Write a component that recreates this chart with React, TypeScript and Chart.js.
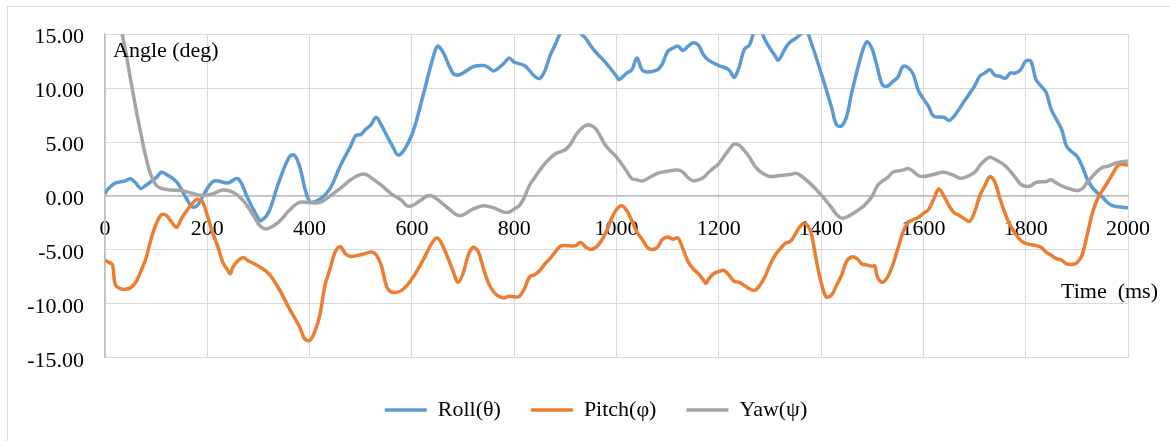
import { useEffect, useRef } from 'react';
import { Chart, registerables } from 'chart.js';

Chart.register(...registerables);

const FONT = '"Liberation Serif", "Times New Roman", serif';

const SERIES_NAMES = ['Roll(θ)', 'Pitch(φ)', 'Yaw(ψ)'];
const Y_TITLE = 'Angle (deg)';
const X_TITLE = 'Time  (ms)';

const rollTime = [0,5,20,40,50,60,70,80,100,110,120,140,160,170,180,200,210,220,240,260,280,300,305,320,340,360,370,380,400,420,440,460,480,490,500,510,520,530,540,560,575,600,620,640,650,660,680,690,700,720,740,750,760,780,790,800,820,840,850,860,870,880,890,900,915,930,940,950,960,980,1000,1005,1020,1030,1040,1050,1060,1080,1090,1100,1110,1120,1130,1140,1150,1160,1170,1180,1200,1220,1230,1240,1250,1260,1270,1280,1290,1300,1310,1315,1320,1330,1340,1350,1360,1370,1380,1400,1420,1430,1440,1450,1460,1480,1490,1500,1510,1520,1530,1540,1550,1560,1570,1580,1590,1600,1610,1620,1640,1650,1660,1680,1700,1710,1720,1730,1740,1750,1760,1770,1780,1790,1800,1810,1820,1830,1840,1850,1860,1870,1880,1890,1900,1910,1920,1930,1940,1950,1960,1970,1980,2000];
const rollAngle = [0.2,0.6,1.2,1.4,1.6,1.2,0.7,1.0,1.7,2.2,2.0,1.3,-0.3,-1.0,-0.9,0.7,1.3,1.4,1.2,1.6,-0.3,-2.1,-2.3,-1.5,1.3,3.6,3.8,2.8,-0.5,-0.3,0.7,2.8,4.6,5.6,5.7,6.2,6.6,7.3,6.6,4.8,3.8,5.7,9.0,12.6,13.9,13.4,11.4,11.2,11.4,12.0,12.1,11.9,11.6,12.3,12.8,12.4,12.1,11.1,10.9,11.6,13.0,14.0,15.1,16.0,16.2,15.1,14.6,13.9,13.3,12.3,11.1,10.8,11.4,11.7,12.8,11.7,11.5,11.7,12.3,13.4,13.7,13.9,13.5,13.9,14.2,14.0,13.1,12.6,12.1,11.7,11.0,12.0,13.6,14.0,15.3,15.6,14.5,13.7,13.0,12.6,12.8,13.7,14.3,14.6,15.0,15.4,14.3,11.4,8.3,6.6,6.5,7.4,9.6,13.3,14.3,13.6,11.9,10.3,10.2,10.6,11.0,12.0,11.9,11.3,9.8,9.0,8.3,7.4,7.3,7.0,7.4,8.8,10.2,11.1,11.4,11.7,11.2,11.1,10.9,11.4,11.4,11.7,12.5,12.5,10.8,10.2,9.6,8.0,7.1,6.2,4.6,4.1,3.7,2.8,1.6,0.8,0.3,-0.1,-0.6,-0.9,-1.0,-1.1];

const pitchTime = [0,10,15,20,30,40,50,60,70,80,90,100,110,120,130,140,150,160,170,180,190,200,210,220,230,240,245,250,260,270,280,300,320,340,360,380,390,400,410,420,430,440,450,460,470,480,500,520,530,540,550,560,580,600,620,640,650,660,680,690,700,710,720,730,740,750,760,770,780,790,800,810,820,830,840,850,860,870,880,890,900,920,930,940,950,960,970,980,990,1000,1010,1020,1030,1040,1050,1060,1070,1080,1090,1100,1110,1120,1130,1140,1150,1160,1170,1175,1180,1190,1200,1210,1220,1230,1240,1250,1260,1270,1280,1290,1300,1310,1320,1330,1340,1350,1360,1370,1380,1390,1400,1410,1420,1430,1440,1450,1460,1470,1480,1490,1500,1505,1510,1520,1530,1540,1550,1560,1570,1580,1590,1600,1610,1620,1630,1640,1650,1660,1670,1680,1690,1700,1710,1720,1730,1740,1750,1760,1770,1780,1790,1800,1820,1830,1840,1850,1860,1870,1880,1890,1900,1910,1920,1930,1940,1950,1960,1970,1980,1990,2000];
const pitchAngle = [-6.0,-6.2,-6.4,-8.2,-8.6,-8.65,-8.5,-8.0,-7.0,-5.8,-4.0,-2.6,-1.75,-1.8,-2.4,-2.9,-2.05,-1.35,-0.75,-0.3,-0.5,-1.8,-3.35,-4.6,-6.1,-6.9,-7.2,-6.6,-6.0,-5.7,-6.0,-6.5,-7.2,-8.6,-10.4,-12.1,-13.2,-13.4,-12.6,-11.05,-8.3,-6.75,-5.2,-4.7,-5.35,-5.6,-5.45,-5.2,-5.45,-6.4,-8.3,-8.9,-8.75,-7.7,-6.1,-4.3,-3.9,-4.6,-6.9,-8.0,-7.2,-5.5,-4.75,-5.2,-6.75,-8.1,-8.9,-9.3,-9.45,-9.3,-9.35,-9.3,-8.6,-7.5,-7.3,-6.9,-6.3,-5.8,-5.2,-4.65,-4.6,-4.6,-4.3,-4.75,-4.95,-4.75,-4.2,-3.3,-2.1,-1.25,-0.9,-1.35,-2.3,-3.35,-4.0,-4.75,-4.95,-4.75,-4.0,-3.8,-4.0,-3.9,-4.9,-6.1,-6.75,-7.2,-7.8,-8.1,-7.7,-7.2,-7.0,-6.9,-7.35,-7.9,-8.0,-8.3,-8.6,-8.75,-8.3,-7.5,-6.4,-5.5,-4.9,-4.4,-4.2,-3.5,-2.75,-2.6,-3.35,-5.8,-8.0,-9.35,-9.2,-8.3,-7.35,-6.05,-5.65,-5.8,-6.3,-6.4,-6.5,-6.5,-7.5,-8.0,-7.5,-6.4,-4.9,-3.35,-2.45,-2.2,-2.0,-1.6,-1.25,-0.3,0.65,0.0,-0.9,-1.55,-1.8,-2.1,-2.35,-1.5,0.0,0.95,1.8,1.25,-0.3,-1.65,-2.75,-3.5,-4.1,-4.4,-4.6,-4.75,-5.2,-5.5,-5.8,-5.95,-6.3,-6.35,-6.2,-5.5,-3.65,-1.65,-0.3,0.5,1.25,2.05,2.8,2.95,2.85];

const yawTime = [0,10,20,30,40,50,60,70,80,90,100,110,130,150,170,190,210,230,250,270,290,300,310,320,340,360,380,400,420,440,460,480,500,510,520,540,560,580,590,600,620,630,640,660,680,690,700,720,740,760,780,790,800,810,820,830,840,850,860,870,880,890,900,910,920,930,940,950,960,970,980,1000,1020,1030,1040,1050,1060,1080,1100,1120,1130,1140,1150,1160,1170,1180,1190,1200,1220,1230,1240,1250,1260,1270,1280,1290,1300,1320,1340,1350,1360,1380,1400,1420,1430,1440,1450,1460,1480,1490,1500,1510,1520,1530,1540,1560,1570,1580,1590,1600,1620,1640,1660,1670,1680,1700,1710,1720,1730,1740,1760,1780,1790,1800,1810,1820,1840,1850,1860,1880,1900,1910,1920,1940,1950,1960,1980,2000];
const yawAngle = [23,20.8,18.3,15.8,13.5,10.8,8.2,5.8,3.6,1.9,1.0,0.7,0.55,0.5,0.25,0.05,0.2,0.55,0.35,-0.4,-1.8,-2.6,-3.0,-3.0,-2.4,-1.35,-0.6,-0.6,-0.6,0.0,0.7,1.5,2.0,2.0,1.7,1.0,0.2,-0.4,-0.9,-0.9,-0.3,0.0,0.0,-0.7,-1.5,-1.8,-1.75,-1.2,-0.9,-1.1,-1.5,-1.5,-1.2,-0.9,-0.1,1.0,1.7,2.4,3.0,3.5,3.9,4.1,4.3,4.8,5.6,6.2,6.55,6.55,6.2,5.4,4.6,3.6,2.3,1.6,1.5,1.4,1.6,2.1,2.3,2.4,2.2,1.7,1.4,1.5,1.7,2.2,2.6,3.0,4.3,4.8,4.7,4.2,3.6,2.8,2.3,2.0,1.8,1.9,2.0,2.1,1.9,1.1,0.1,-1.05,-1.7,-2.05,-1.95,-1.7,-1.05,-0.6,0.0,0.95,1.4,1.7,2.2,2.4,2.55,2.3,1.9,1.8,2.0,2.2,1.9,1.65,1.7,2.2,2.8,3.3,3.6,3.4,2.8,1.7,1.1,0.9,0.95,1.25,1.35,1.5,1.2,0.75,0.5,0.65,1.25,2.3,2.65,2.75,3.1,3.25];

const COLORS = ['#5B9BD5', '#ED7D31', '#A5A5A5'];

const toPoints = (t: number[], v: number[]) => t.map((x, i) => ({ x, y: v[i] }));

export default function App() {
  const ref = useRef<HTMLCanvasElement | null>(null);

  useEffect(() => {
    if (!ref.current) return;
    const titles = {
      id: 'axisTitles',
      afterLayout(chart: any) {
        // centre the legend under the plot like the reference
        if (chart.legend) {
          chart.legend.left += 32;
          chart.legend.right += 32;
        }
      },
      afterDraw(chart: any) {
        const { ctx, chartArea } = chart;
        ctx.save();
        ctx.font = `22px ${FONT}`;
        ctx.fillStyle = '#000';
        ctx.textBaseline = 'middle';
        ctx.textAlign = 'left';
        ctx.fillText(Y_TITLE, chartArea.left + 8, chartArea.top + 17);
        ctx.textAlign = 'right';
        ctx.fillText(X_TITLE, chartArea.right + 30, chart.scales.y.getPixelForValue(-8.9));
        ctx.restore();
      },
    };
    const series = [
      [rollTime, rollAngle],
      [pitchTime, pitchAngle],
      [yawTime, yawAngle],
    ];
    const chart = new Chart(ref.current, {
      type: 'line',
      data: {
        datasets: series.map(([t, v], i) => ({
          label: SERIES_NAMES[i],
          data: toPoints(t, v),
          borderColor: COLORS[i],
          backgroundColor: COLORS[i],
          borderWidth: 3.5,
          pointRadius: 0,
          tension: 0.35,
          order: 3 - i,
        })),
      },
      options: {
        responsive: false,
        animation: false,
        layout: { padding: { left: 0, right: 42, top: 33, bottom: 10 } },
        scales: {
          x: {
            type: 'linear',
            min: 0,
            max: 2000,
            position: { y: 0 } as any,
            ticks: {
              stepSize: 200,
              padding: 20,
              autoSkip: false,
              maxRotation: 0,
              color: '#000',
              font: { family: FONT, size: 22 },
              callback: (v: any) => String(v),
            },
            grid: { color: '#d9d9d9', lineWidth: 1, drawTicks: false },
            border: { color: '#bfbfbf', width: 1.5 },
          },
          y: {
            type: 'linear',
            min: -15,
            max: 15,
            ticks: {
              stepSize: 5,
              padding: 21,
              labelOffset: 3,
              color: '#000',
              font: { family: FONT, size: 22 },
              callback: (v: any) => Number(v).toFixed(2),
            },
            grid: { color: '#d9d9d9', lineWidth: 1, drawTicks: false },
            border: { color: '#bfbfbf', width: 1.5 },
            afterFit: (s: any) => {
              s.width = 105;
            },
          },
        },
        plugins: {
          legend: {
            position: 'bottom',
            labels: {
              usePointStyle: true,
              pointStyle: 'line',
              pointStyleWidth: 42,
              padding: 30,
              color: '#000',
              font: { family: FONT, size: 22 },
              sort: (a: any, b: any) => a.datasetIndex - b.datasetIndex,
            },
            title: { display: true, text: '', padding: { top: 10, bottom: 0 }, font: { size: 1 } },
          },
          tooltip: { enabled: false },
        },
      },
      plugins: [titles],
    } as any);
    return () => chart.destroy();
  }, []);

  return (
    <div style={{ position: 'fixed', left: 0, top: 0, width: 1170, height: 441, overflow: 'hidden', background: '#fff' }}>
      <div style={{ position: 'absolute', left: 7, top: 6, width: 1200, height: 500, border: '1px solid #d9d9d9', boxSizing: 'border-box' }} />
      <canvas ref={ref} width={1170} height={441} style={{ position: 'absolute', left: 0, top: 0 }} />
    </div>
  );
}
